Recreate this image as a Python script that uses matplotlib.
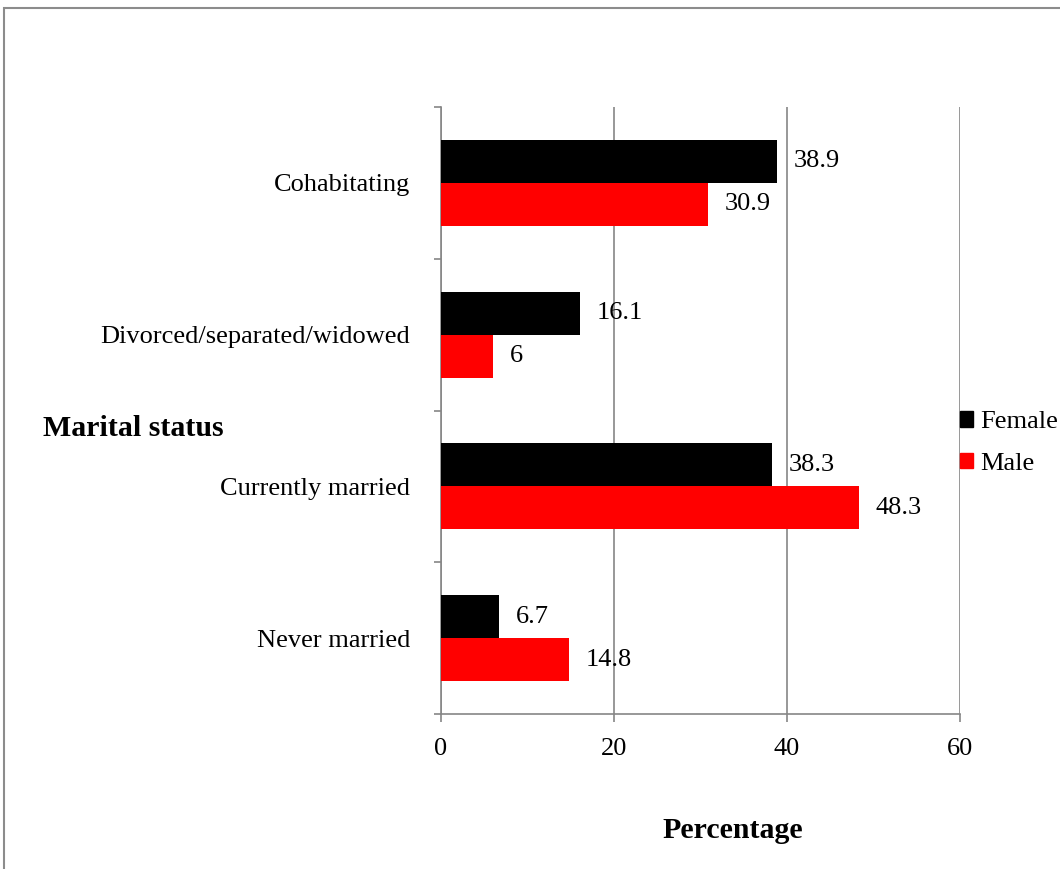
import numpy as np
import matplotlib
matplotlib.use("Agg")
import matplotlib.pyplot as plt
from matplotlib.patches import Patch, Rectangle

plt.rcParams["font.family"] = ["Liberation Serif", "DejaVu Serif"]

# marital status groups, bottom to top
categories = ["Never married", "Currently married",
              "Divorced/separated/widowed", "Cohabitating"]
female = [6.7, 38.3, 16.1, 38.9]
male = [14.8, 48.3, 6, 30.9]
x_ticks = [0, 20, 40, 60]

GRAY = "#868686"
FS = 19

fig = plt.figure(figsize=(10.6, 8.69), dpi=100)
ax = fig.add_axes([441 / 1060, 1 - 714 / 869, (960 - 441) / 1060, (714 - 107) / 869])

y = np.arange(len(categories))
h = 0.283
bf = ax.barh(y + h / 2, female, height=h, color="black", zorder=3)
bm = ax.barh(y - h / 2, male, height=h, color="#FF0000", zorder=3)

for bars, vals in ((bf, female), (bm, male)):
    for bar, v in zip(bars, vals):
        ax.annotate(f"{v:g}", (v, bar.get_y() + bar.get_height() / 2),
                    xytext=(12, 0), textcoords="offset points",
                    va="center", ha="left", fontsize=FS, zorder=4)

ax.set_xlim(0, 60)
ax.set_ylim(-0.5, len(categories) - 0.5)
ax.set_xticks(x_ticks)
ax.tick_params(axis="x", direction="out", length=6, width=1.2, color=GRAY,
               labelsize=FS, pad=11)

# group boundaries carry the tick marks, group centres carry the names
ax.set_yticks(np.arange(len(categories) + 1) - 0.5)
ax.set_yticklabels([])
ax.set_yticks(y, minor=True)
ax.set_yticklabels(categories, minor=True)
ax.tick_params(axis="y", which="major", direction="out", length=5, width=1.2, color=GRAY)
ax.tick_params(axis="y", which="minor", length=0, labelsize=FS, pad=22)

ax.xaxis.grid(True, color=GRAY, linewidth=1.2, zorder=0)
ax.set_axisbelow(True)
for side in ("top", "right"):
    ax.spines[side].set_visible(False)
for side in ("left", "bottom"):
    ax.spines[side].set_color(GRAY)
    ax.spines[side].set_linewidth(1.2)

ax.legend(handles=[Patch(color="black", label="Female"),
                   Patch(color="#FF0000", label="Male")],
          loc="center left", bbox_to_anchor=(0.98, 0.446), frameon=False,
          fontsize=FS, handlelength=0.5, handleheight=0.5, handletextpad=0.25,
          labelspacing=0.75, borderaxespad=0)

fig.text(43 / 1060, 1 - 436 / 869, "Marital status", fontsize=21.5,
         fontweight="bold", va="baseline", ha="left")
fig.text(733 / 1060, 1 - 830 / 869, "Percentage", fontsize=21.5,
         fontweight="bold", va="center", ha="center")

# outer frame, running off the right and bottom edges
fig.patches.append(Rectangle((4 / 1060, -0.2), 1.5, 1 - 8 / 869 + 0.2,
                             transform=fig.transFigure, fill=False,
                             edgecolor="#8c8c8c", linewidth=1.5))

fig.savefig("out.png", dpi=100)
